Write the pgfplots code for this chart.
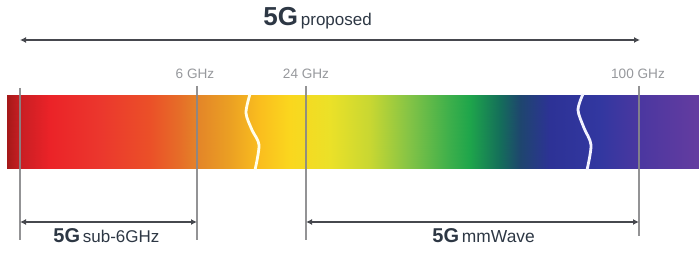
\documentclass[border=0pt]{standalone}
\usepackage{pgfplots}
\pgfplotsset{compat=1.18}
\usepackage{fontspec}
\setmainfont{Liberation Sans}
\usetikzlibrary{arrows.meta}
\definecolor{txtc}{RGB}{45,55,68}
\definecolor{tickc}{RGB}{135,135,138}
\definecolor{lblc}{RGB}{150,152,156}
\definecolor{arrc}{RGB}{70,72,78}
\begin{document}
\begin{tikzpicture}
\begin{axis}[
  scale only axis, width=349.5pt, height=130pt,
  xmin=0, xmax=699, ymin=0, ymax=260, y dir=reverse,
  hide axis, clip=false,
  colormap={spec}{
    rgb255(7pt)=(165,25,25);
    rgb255(20pt)=(200,30,35);
    rgb255(50pt)=(235,35,40);
    rgb255(100pt)=(235,55,45);
    rgb255(150pt)=(235,80,40);
    rgb255(180pt)=(230,110,40);
    rgb255(200pt)=(228,135,40);
    rgb255(230pt)=(235,160,35);
    rgb255(260pt)=(250,190,30);
    rgb255(290pt)=(250,215,30);
    rgb255(330pt)=(235,225,40);
    rgb255(370pt)=(200,215,50);
    rgb255(410pt)=(130,195,70);
    rgb255(450pt)=(60,175,75);
    rgb255(470pt)=(30,165,75);
    rgb255(500pt)=(20,110,90);
    rgb255(520pt)=(30,70,110);
    rgb255(550pt)=(45,50,150);
    rgb255(600pt)=(50,55,160);
    rgb255(640pt)=(75,55,160);
    rgb255(699pt)=(100,60,160)
  },
  point meta min=7, point meta max=699,
]
\addplot[draw=none] coordinates {(0,0) (699,260)};
% spectrum bar
\addplot[surf, shader=interp, point meta=x] table {
x y
7 95
20 95
50 95
100 95
150 95
180 95
200 95
230 95
260 95
290 95
330 95
370 95
410 95
450 95
470 95
500 95
520 95
550 95
600 95
640 95
699 95

7 169
20 169
50 169
100 169
150 169
180 169
200 169
230 169
260 169
290 169
330 169
370 169
410 169
450 169
470 169
500 169
520 169
550 169
600 169
640 169
699 169
};
% break marks
\addplot[smooth, color=white!92!yellow, line width=1.4pt] coordinates {(250,94) (246,113) (252,130) (259,145) (255,170)};
\addplot[smooth, color=white!95!blue, line width=1.4pt] coordinates {(583,94) (578,110) (584,128) (591,145) (587,170)};
% vertical marker lines
\addplot[color=tickc, opacity=0.9, line width=0.8pt] coordinates {(20,88) (20,240)};
\addplot[color=tickc, opacity=0.9, line width=0.8pt] coordinates {(197,86) (197,240)};
\addplot[color=tickc, opacity=0.9, line width=0.8pt] coordinates {(306,86) (306,240)};
\addplot[color=tickc, opacity=0.9, line width=0.8pt] coordinates {(639,86) (639,236)};
% arrows
\addplot[color=arrc, line width=1pt, {Latex[length=3pt,width=3pt]}-{Latex[length=3pt,width=3pt]}] coordinates {(20,40) (640,40)};
\addplot[color=arrc, line width=0.8pt, {Latex[length=3pt,width=3pt]}-{Latex[length=3pt,width=3pt]}] coordinates {(20,222) (197,222)};
\addplot[color=arrc, line width=0.8pt, {Latex[length=3pt,width=3pt]}-{Latex[length=3pt,width=3pt]}] coordinates {(306,222) (639,222)};
% labels
\node[text=txtc, anchor=base west, inner sep=0pt] at (axis cs:263,26) {\fontsize{13}{14}\selectfont\bfseries 5G\fontsize{8.5}{9}\selectfont\mdseries\,proposed};
\node[text=lblc, anchor=base, font=\fontsize{6.8}{7}\selectfont] at (axis cs:195,79) {6 GHz};
\node[text=lblc, anchor=base, font=\fontsize{6.8}{7}\selectfont] at (axis cs:306,79) {24 GHz};
\node[text=lblc, anchor=base, font=\fontsize{6.8}{7}\selectfont] at (axis cs:638,79) {100 GHz};
\node[text=txtc, anchor=base west, inner sep=0pt] at (axis cs:53,243) {\fontsize{10}{11}\selectfont\bfseries 5G\fontsize{8.5}{9}\selectfont\mdseries\,sub-6GHz};
\node[text=txtc, anchor=base west, inner sep=0pt] at (axis cs:432,243) {\fontsize{10}{11}\selectfont\bfseries 5G\fontsize{8.7}{9}\selectfont\mdseries\,mmWave};
\end{axis}
\end{tikzpicture}
\end{document}
